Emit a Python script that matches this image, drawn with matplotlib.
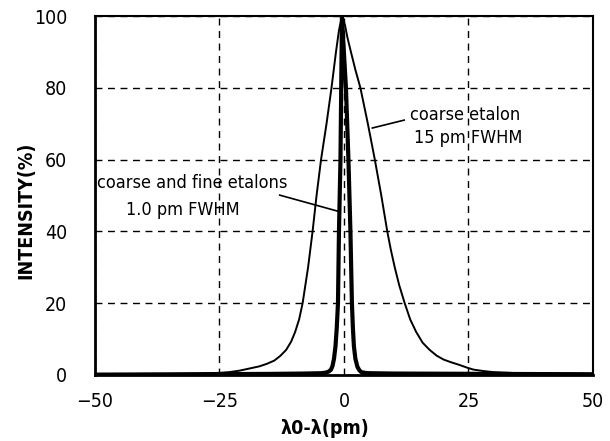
import matplotlib
matplotlib.use('Agg')
import matplotlib.pyplot as plt

# data (x in pm, intensity in %)
broad_x = [-50, -45, -40, -35, -30, -27, -25, -23, -21, -19, -17, -15.5, -14, -12.8, -11.6, -10.6,
           -9.8, -9.0, -8.3, -7.2, -6.3, -5.5, -4.6, -3.5, -2.5, -1.6, -1.0, -0.4,
           0.2, 0.7, 1.4, 2.3, 3.3, 4.8, 6.2, 7.5, 8.7, 9.4, 10.2, 11.1, 12.2, 13.3, 14.5,
           15.8, 17.2, 18.6, 20, 21.6, 23.2, 24.6, 26, 28, 30, 35, 40, 50]
broad_y = [0.2, 0.2, 0.3, 0.3, 0.4, 0.5, 0.6, 0.8, 1.2, 1.8, 2.4, 3.1, 4.0, 5.3, 7, 9.3,
           12, 15.5, 20, 30, 40, 50, 60, 70, 80, 90, 96, 100,
           97.5, 94, 90, 85, 80, 70, 60, 50, 40, 35, 30, 25, 20, 15.5, 12,
           9, 7, 5.4, 4.3, 3.5, 2.8, 2.1, 1.5, 1.1, 0.8, 0.5, 0.4, 0.3]

narrow_x = [-50, -30, -15, -8, -4.5, -3.5, -3.0, -2.6, -2.3, -2.0, -1.7, -1.45, -1.2, -1.0,
            -0.7, -0.55, -0.4, -0.1, 0.4, 0.9, 1.3, 1.6, 1.8, 2.0, 2.3, 2.7, 3.1, 3.5,
            4.2, 5, 10, 30, 50]
narrow_y = [0.1, 0.2, 0.3, 0.4, 0.5, 0.7, 1.0, 1.5, 2.5, 4.5, 8, 13, 20, 40,
            60, 80, 100, 92, 80, 60, 40, 20, 13, 8, 4.5, 2.3, 1.3, 0.8,
            0.6, 0.5, 0.4, 0.3, 0.2]

xticks = [-50, -25, 0, 25, 50]
yticks = [0, 20, 40, 60, 80, 100]

plt.rcParams['font.family'] = ['DejaVu Sans']
plt.rcParams['font.stretch'] = 'condensed'

fig = plt.figure(figsize=(6.1, 4.41), dpi=100)
ax = fig.add_axes([0.1557, 0.1497, 0.8163, 0.814])

ax.plot(broad_x, broad_y, color='black', lw=1.4)
ax.plot(narrow_x, narrow_y, color='black', lw=3.0, solid_joinstyle='round')

ax.set_xlim(-50, 50)
ax.set_ylim(0, 100)
ax.set_xticks(xticks)
ax.set_yticks(yticks)
ax.tick_params(length=0, labelsize=14)
ax.tick_params(axis='y', pad=20)
ax.tick_params(axis='x', pad=12)
ax.grid(True, color='black', linestyle=(0, (5, 4)), lw=1.0)

for side in ['left', 'bottom']:
    ax.spines[side].set_linewidth(2.0)
for side in ['top', 'right']:
    ax.spines[side].set_linewidth(1.5)

ax.set_ylabel('INTENSITY(%)', fontsize=14, fontweight='bold')
ax.yaxis.set_label_coords(-0.12, 0.46)
ax.set_xlabel('λ0-λ(pm)', fontsize=14, fontweight='bold')
ax.xaxis.set_label_coords(0.462, -0.123)

# annotations
ax.text(24.4, 72.5, 'coarse etalon', fontsize=13, ha='center', va='center')
ax.text(24.9, 66, '15 pm FWHM', fontsize=13, ha='center', va='center')
ax.plot([12.1, 5.7], [71, 68.8], color='black', lw=1.2)

ax.text(-49.6, 53.5, 'coarse and fine etalons', fontsize=13, ha='left', va='center')
ax.text(-43.7, 46, '1.0 pm FWHM', fontsize=13, ha='left', va='center')
ax.plot([-12.9, -0.9], [50.1, 45.5], color='black', lw=1.2)

fig.savefig('out.png', dpi=100)
